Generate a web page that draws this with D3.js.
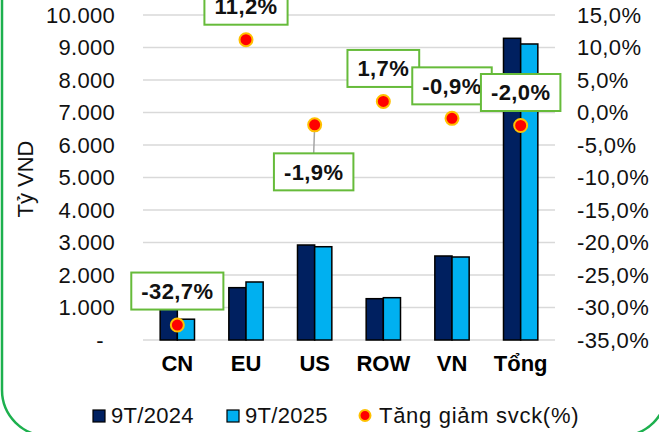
<!DOCTYPE html>
<html><head><meta charset="utf-8">
<script src="https://cdn.jsdelivr.net/npm/d3@7"></script>
<style>body{margin:0;background:#fff}svg{display:block;font-family:Arial,"Liberation Sans",sans-serif}</style>
</head><body><svg id="c" width="659" height="432"></svg>
<script>
const categories = ["CN","EU","US","ROW","VN","Tổng"];
const series2024 = [951,1610,2923,1271,2585,9283];
const series2025 = [640,1785,2870,1302,2554,9108];
const growth = [-32.7,11.2,-1.9,1.7,-0.9,-2.0];
const leftTicks = [0,1000,2000,3000,4000,5000,6000,7000,8000,9000,10000];
const rightTicks = [-35,-30,-25,-20,-15,-10,-5,0,5,10,15];
const seriesNames = ["9T/2024","9T/2025","Tăng giảm svck(%)"];

const colors = {dark:"#002060", light:"#00b0f0"};
const labelOffsets = [[0,-34],[0,-33.5],[-1,47],[0,-33],[0,-32.5],[0,-33]];
const FONT = "Arial, 'Liberation Sans', sans-serif";

const svg = d3.select("#c");
// border
svg.append("rect").attr("x",2).attr("y",-60).attr("width",665).attr("height",496)
  .attr("rx",46).attr("fill","none").attr("stroke","#1db04e").attr("stroke-width",2.5);

const x0 = d3.scaleBand().domain(categories).range([143,555]).paddingInner(0.5).paddingOuter(0.25);
const x1 = d3.scaleBand().domain([0,1]).range([0,x0.bandwidth()]);
const y = d3.scaleLinear().domain([0,10000]).range([340,15]);
const yr = d3.scaleLinear().domain([-35,15]).range([340,15]);

// gridlines
svg.append("g").selectAll("line").data(leftTicks).join("line")
  .attr("x1",143).attr("x2",555).attr("y1",d=>y(d)).attr("y2",d=>y(d))
  .attr("stroke","#d9d9d9").attr("stroke-width",1.5);

const fmtL = d=> d===0 ? "-" : d3.format(",")(d).replace(/,/g,".");
const fmtR = d=> d.toFixed(1).replace(".",",")+"%";
// left axis
const la = svg.append("g").attr("transform","translate(115,0)")
  .call(d3.axisLeft(y).tickValues(leftTicks).tickFormat(fmtL).tickSize(0).tickPadding(0));
la.select(".domain").remove();
la.selectAll("text").attr("font-size",22).attr("letter-spacing",0.3).attr("fill","#111").attr("font-family",FONT)
  .attr("dx", d=> d===0 ? -11 : 0);
// right axis
const ra = svg.append("g").attr("transform","translate(577,0)")
  .call(d3.axisRight(yr).tickValues(rightTicks).tickFormat(fmtR).tickSize(0).tickPadding(0));
ra.select(".domain").remove();
ra.selectAll("text").attr("font-size",22).attr("letter-spacing",0.4).attr("fill","#111").attr("font-family",FONT);

// y title
svg.append("text").attr("transform","translate(33,179) rotate(-90)").attr("text-anchor","middle")
  .attr("font-size",22).attr("fill","#111").text("Tỷ VND");

// bars
const vals = [series2024, series2025];
const bcol = [colors.dark, colors.light];
vals.forEach((arr,si)=>{
  svg.append("g").selectAll("rect").data(arr).join("rect")
    .attr("x",(d,i)=>x0(categories[i])+x1(si)).attr("width",x1.bandwidth())
    .attr("y",d=>y(d)).attr("height",d=>y(0)-y(d))
    .attr("fill",bcol[si]).attr("stroke","#000").attr("stroke-width",1.5);
});

// category labels
const xa = svg.append("g").attr("transform","translate(0,355)")
  .call(d3.axisBottom(x0).tickSize(0).tickPadding(0));
xa.select(".domain").remove();
xa.selectAll("text").attr("font-size",22).attr("font-weight","bold").attr("fill","#000")
  .attr("font-family",FONT).attr("dy","0.71em");

const cx = i=> x0(categories[i])+x0.bandwidth()/2;
// leader line for US
growth.forEach((g,i)=>{
  const o = labelOffsets[i];
  if (o[1]>0) {
    svg.append("line").attr("x1",cx(i)).attr("x2",cx(i)+o[0]).attr("y1",yr(g)).attr("y2",yr(g)+o[1]-18)
      .attr("stroke","#a6a6a6").attr("stroke-width",1.5);
  }
});
// dots
svg.append("g").selectAll("circle").data(growth).join("circle")
  .attr("cx",(d,i)=>cx(i)).attr("cy",d=>yr(d)).attr("r",6.5)
  .attr("fill","#ff0000").attr("stroke","#ffc000").attr("stroke-width",2);

// labels
growth.forEach((g,i)=>{
  const o = labelOffsets[i];
  const lx = cx(i)+o[0], ly = yr(g)+o[1];
  const grp = svg.append("g");
  const t = grp.append("text").attr("x",lx).attr("y",ly).attr("text-anchor","middle").attr("dy","0.36em")
    .attr("font-size",22).attr("letter-spacing",0.4).attr("font-weight","bold").attr("fill","#111")
    .text(fmtR(g));
  const w = t.node().getComputedTextLength()+20;
  grp.insert("rect","text").attr("x",lx-w/2).attr("y",ly-18.5).attr("width",w).attr("height",37)
    .attr("fill","#fff").attr("stroke","#66bb3a").attr("stroke-width",2);
});

// legend
const lg = svg.append("g").attr("font-size",22).attr("letter-spacing",0.3).attr("fill","#111");
lg.append("rect").attr("x",93).attr("y",410).attr("width",12).attr("height",12).attr("fill",colors.dark).attr("stroke","#000").attr("stroke-width",1.2);
lg.append("text").attr("x",111).attr("y",423).text(seriesNames[0]);
lg.append("rect").attr("x",227).attr("y",410).attr("width",12).attr("height",12).attr("fill",colors.light).attr("stroke","#000").attr("stroke-width",1.2);
lg.append("text").attr("x",245).attr("y",423).text(seriesNames[1]);
lg.append("circle").attr("cx",365).attr("cy",415.5).attr("r",5.5).attr("fill","#ff0000").attr("stroke","#ffc000").attr("stroke-width",2);
lg.append("text").attr("x",379).attr("y",423).attr("letter-spacing",0.7).text(seriesNames[2]);
</script></body></html>
